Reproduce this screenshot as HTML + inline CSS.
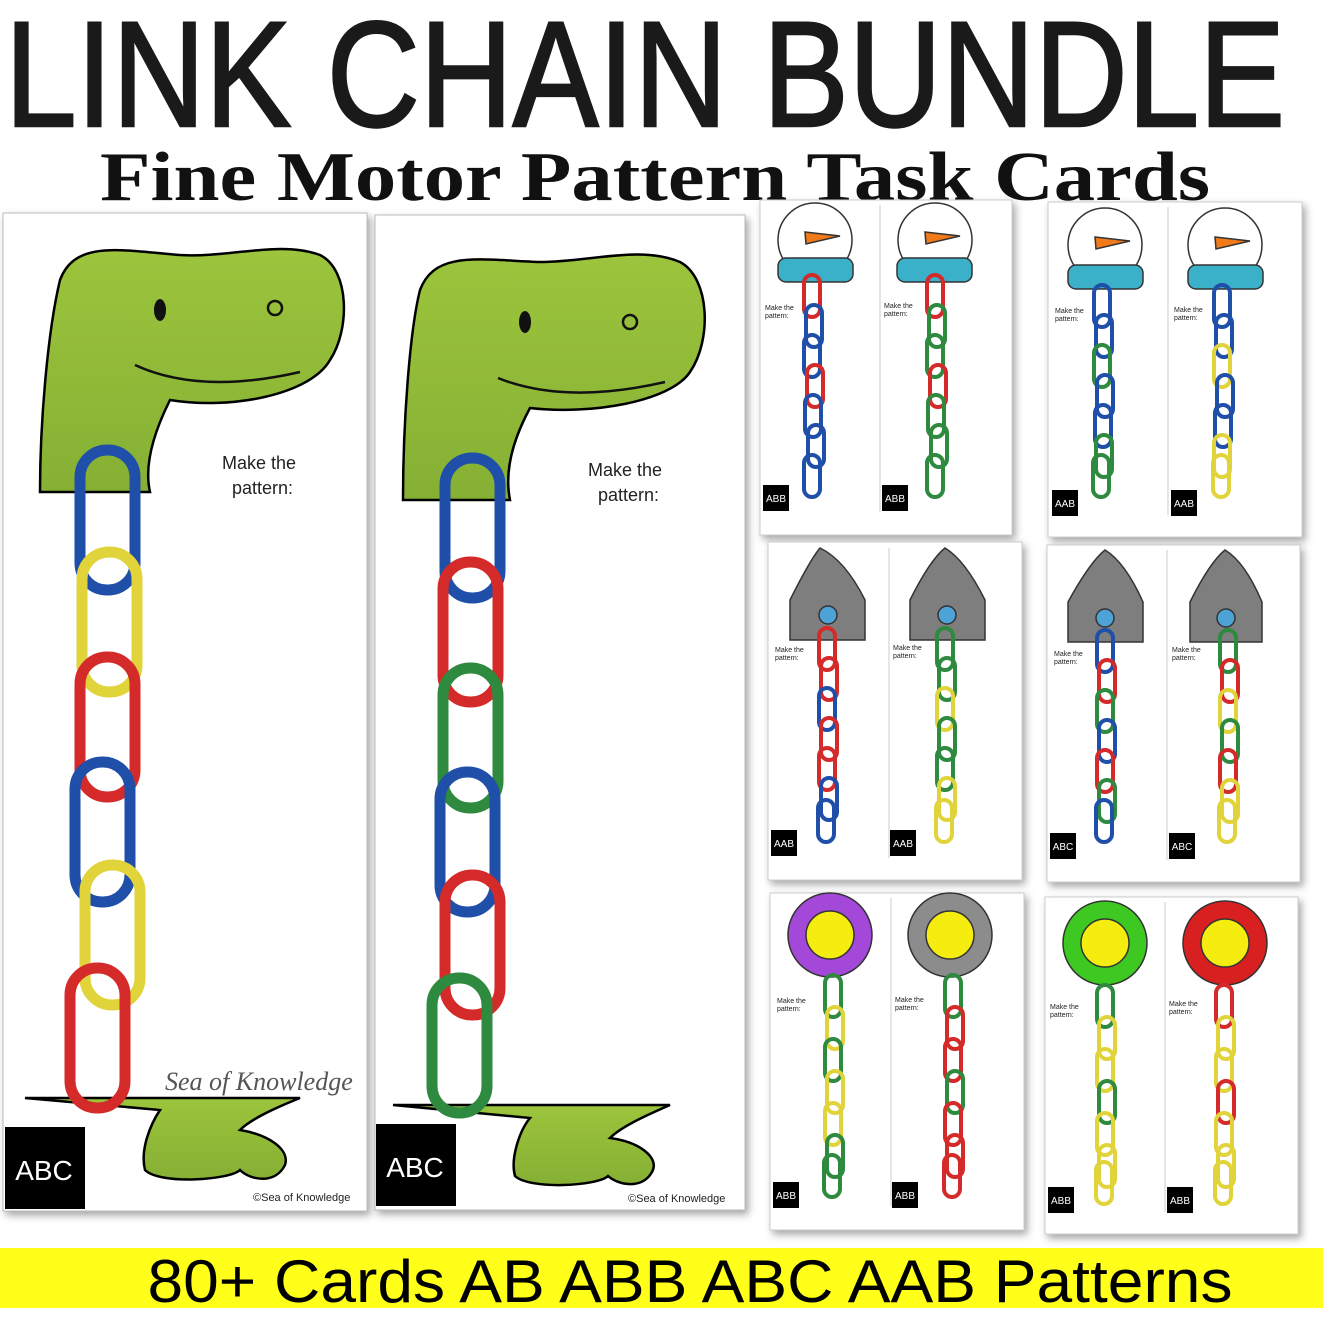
<!DOCTYPE html>
<html><head><style>body{margin:0;background:#fff}svg{display:block}</style></head><body>
<svg width="1323" height="1323" viewBox="0 0 1323 1323" xmlns="http://www.w3.org/2000/svg" xmlns:xlink="http://www.w3.org/1999/xlink">
<defs>
<filter id="sh" x="-5%" y="-5%" width="115%" height="115%"><feDropShadow dx="3" dy="4" stdDeviation="4" flood-color="#000" flood-opacity="0.35"/></filter>
<linearGradient id="gr" x1="0" y1="0" x2="0" y2="1"><stop offset="0" stop-color="#9cc43c"/><stop offset="1" stop-color="#86b034"/></linearGradient>
<rect id="L" width="16" height="42" rx="8" fill="none" stroke-width="4"/>
</defs>
<rect width="1323" height="1323" fill="#fff"/>
<text x="645" y="126" text-anchor="middle" font-family="Liberation Sans, sans-serif" font-size="150" fill="#1a1a1a" stroke="#1a1a1a" stroke-width="2.5" textLength="1280" lengthAdjust="spacingAndGlyphs">LINK CHAIN BUNDLE</text>
<text x="655" y="200" text-anchor="middle" font-family="Liberation Serif, serif" font-weight="bold" font-size="70" fill="#111" textLength="1110" lengthAdjust="spacingAndGlyphs">Fine Motor Pattern Task Cards</text>

<g filter="url(#sh)"><rect x="3" y="213" width="364" height="998" fill="#fff" stroke="#bbb"/><rect x="375" y="215" width="370" height="995" fill="#fff" stroke="#bbb"/></g>
<g stroke="#000" stroke-width="2.5" fill="url(#gr)">
<path d="M40 492 C40 420 48 330 60 280 C75 240 120 250 180 255 C230 258 280 240 320 255 C350 270 350 330 330 360 C310 395 230 410 170 400 C150 440 145 470 150 492 Z"/>
<path d="M403 500 C403 420 410 330 420 290 C435 250 480 260 540 262 C590 262 640 245 680 262 C710 278 712 340 690 372 C670 402 590 415 530 408 C510 445 505 475 510 500 Z"/>
<path d="M25 1098 L300 1098 C270 1110 250 1120 240 1130 C270 1135 290 1150 285 1165 C275 1185 250 1180 240 1170 C230 1180 160 1185 145 1170 C140 1150 150 1125 160 1110 Z"/>
<path d="M393 1105 L670 1105 C640 1118 620 1128 610 1138 C640 1142 660 1158 652 1172 C642 1190 618 1185 608 1176 C598 1186 530 1190 515 1176 C510 1158 520 1130 530 1118 Z"/>
</g>
<g fill="#111"><ellipse cx="160" cy="310" rx="6" ry="11"/><ellipse cx="525" cy="322" rx="6" ry="11"/></g>
<g fill="none" stroke="#111" stroke-width="2.5"><path d="M135 365 Q200 395 300 372"/><path d="M498 378 Q565 405 665 382"/><circle cx="275" cy="308" r="7"/><circle cx="630" cy="322" r="7"/></g>
<g font-family="Liberation Sans, sans-serif" font-size="18" fill="#222"><text x="222" y="469">Make the</text><text x="232" y="494">pattern:</text><text x="588" y="476">Make the</text><text x="598" y="501">pattern:</text></g>
<rect x="5" y="1127" width="80" height="82" fill="#000"/><text x="44" y="1180" text-anchor="middle" font-family="Liberation Sans, sans-serif" font-size="28" fill="#fff">ABC</text>
<rect x="376" y="1124" width="80" height="82" fill="#000"/><text x="415" y="1177" text-anchor="middle" font-family="Liberation Sans, sans-serif" font-size="28" fill="#fff">ABC</text>
<text x="253" y="1201" font-family="Liberation Sans, sans-serif" font-size="11" fill="#222">©Sea of Knowledge</text>
<text x="628" y="1202" font-family="Liberation Sans, sans-serif" font-size="11" fill="#222">©Sea of Knowledge</text>
<text x="165" y="1090" font-family="Liberation Serif, serif" font-style="italic" font-size="26" fill="#555">Sea of Knowledge</text>
<g fill="none" stroke-width="11">
<rect x="80" y="450" width="55" height="140" rx="27" stroke="#1f4fa8"/>
<rect x="82" y="552" width="55" height="140" rx="27" stroke="#e1d33a"/>
<rect x="80" y="657" width="55" height="140" rx="27" stroke="#d42a2a"/>
<rect x="75" y="762" width="55" height="140" rx="27" stroke="#1f4fa8"/>
<rect x="85" y="865" width="55" height="140" rx="27" stroke="#e1d33a"/>
<rect x="70" y="968" width="55" height="140" rx="27" stroke="#d42a2a"/>
<rect x="445" y="458" width="55" height="140" rx="27" stroke="#1f4fa8"/>
<rect x="443" y="562" width="55" height="140" rx="27" stroke="#d42a2a"/>
<rect x="443" y="668" width="55" height="140" rx="27" stroke="#2e8a3e"/>
<rect x="440" y="772" width="55" height="140" rx="27" stroke="#1f4fa8"/>
<rect x="445" y="875" width="55" height="140" rx="27" stroke="#d42a2a"/>
<rect x="432" y="978" width="55" height="135" rx="27" stroke="#2e8a3e"/>
</g>

<g filter="url(#sh)" fill="#fff" stroke="#ccc">
<rect x="760" y="200" width="252" height="335"/><rect x="1048" y="202" width="254" height="335"/>
<rect x="768" y="542" width="254" height="338"/><rect x="1047" y="545" width="253" height="337"/>
<rect x="770" y="893" width="254" height="337"/><rect x="1045" y="897" width="253" height="337"/>
</g>
<g fill="none" stroke="#ccc"><line x1="880" y1="205" x2="880" y2="512"/><line x1="1168" y1="207" x2="1168" y2="515"/><line x1="889" y1="548" x2="889" y2="858"/><line x1="1167" y1="550" x2="1167" y2="860"/><line x1="891" y1="898" x2="891" y2="1206"/><line x1="1165" y1="902" x2="1165" y2="1212"/></g>
<g stroke="#333" stroke-width="1.5">
<g fill="#fff"><circle cx="815" cy="240" r="37"/><circle cx="935" cy="240" r="37"/><circle cx="1105" cy="245" r="37"/><circle cx="1225" cy="245" r="37"/></g>
<g fill="#3bb0c9"><rect x="778" y="258" width="75" height="24" rx="8"/><rect x="897" y="258" width="75" height="24" rx="8"/><rect x="1068" y="265" width="75" height="24" rx="8"/><rect x="1188" y="265" width="75" height="24" rx="8"/></g>
<g fill="#f07a1a"><path d="M805 232 L840 236 L806 244Z"/><path d="M925 232 L960 236 L926 244Z"/><path d="M1095 237 L1130 241 L1096 249Z"/><path d="M1215 237 L1250 241 L1216 249Z"/></g>
<g fill="#7e7e7e"><path d="M790 600 Q810 560 820 548 Q845 560 865 600 L865 640 L790 640Z"/><path d="M910 600 Q930 560 945 548 Q965 560 985 600 L985 640 L910 640Z"/><path d="M1068 602 Q1090 562 1105 550 Q1125 562 1143 602 L1143 642 L1068 642Z"/><path d="M1190 602 Q1210 562 1225 550 Q1245 562 1262 602 L1262 642 L1190 642Z"/></g>
<g fill="#4da3d6"><circle cx="828" cy="615" r="9"/><circle cx="947" cy="615" r="9"/><circle cx="1105" cy="618" r="9"/><circle cx="1226" cy="618" r="9"/></g>
<g fill="#a348d8"><circle cx="830" cy="935" r="42"/></g><g fill="#8c8c8c"><circle cx="950" cy="935" r="42"/></g>
<g fill="#3ec922"><circle cx="1105" cy="943" r="42"/></g><g fill="#d82020"><circle cx="1225" cy="943" r="42"/></g>
<g fill="#f5ec10"><circle cx="830" cy="935" r="24"/><circle cx="950" cy="935" r="24"/><circle cx="1105" cy="943" r="24"/><circle cx="1225" cy="943" r="24"/></g>
</g>
<g>
<use xlink:href="#L" x="804" y="275" stroke="#d42a2a"/><use xlink:href="#L" x="806" y="305" stroke="#1f4fa8"/><use xlink:href="#L" x="804" y="335" stroke="#1f4fa8"/><use xlink:href="#L" x="807" y="365" stroke="#d42a2a"/><use xlink:href="#L" x="805" y="395" stroke="#1f4fa8"/><use xlink:href="#L" x="808" y="425" stroke="#1f4fa8"/><use xlink:href="#L" x="804" y="455" stroke="#1f4fa8"/>
<use xlink:href="#L" x="927" y="275" stroke="#d42a2a"/><use xlink:href="#L" x="929" y="305" stroke="#2e8a3e"/><use xlink:href="#L" x="927" y="335" stroke="#2e8a3e"/><use xlink:href="#L" x="930" y="365" stroke="#d42a2a"/><use xlink:href="#L" x="928" y="395" stroke="#2e8a3e"/><use xlink:href="#L" x="931" y="425" stroke="#2e8a3e"/><use xlink:href="#L" x="927" y="455" stroke="#2e8a3e"/>
<use xlink:href="#L" x="1094" y="285" stroke="#1f4fa8"/><use xlink:href="#L" x="1096" y="315" stroke="#1f4fa8"/><use xlink:href="#L" x="1094" y="345" stroke="#2e8a3e"/><use xlink:href="#L" x="1097" y="375" stroke="#1f4fa8"/><use xlink:href="#L" x="1095" y="405" stroke="#1f4fa8"/><use xlink:href="#L" x="1096" y="435" stroke="#2e8a3e"/><use xlink:href="#L" x="1093" y="455" stroke="#2e8a3e"/>
<use xlink:href="#L" x="1214" y="285" stroke="#1f4fa8"/><use xlink:href="#L" x="1216" y="315" stroke="#1f4fa8"/><use xlink:href="#L" x="1214" y="345" stroke="#e1d33a"/><use xlink:href="#L" x="1217" y="375" stroke="#1f4fa8"/><use xlink:href="#L" x="1215" y="405" stroke="#1f4fa8"/><use xlink:href="#L" x="1214" y="435" stroke="#e1d33a"/><use xlink:href="#L" x="1213" y="455" stroke="#e1d33a"/>
<use xlink:href="#L" x="819" y="628" stroke="#d42a2a"/><use xlink:href="#L" x="821" y="658" stroke="#d42a2a"/><use xlink:href="#L" x="819" y="688" stroke="#1f4fa8"/><use xlink:href="#L" x="821" y="718" stroke="#d42a2a"/><use xlink:href="#L" x="819" y="748" stroke="#d42a2a"/><use xlink:href="#L" x="821" y="778" stroke="#1f4fa8"/><use xlink:href="#L" x="818" y="800" stroke="#1f4fa8"/>
<use xlink:href="#L" x="937" y="628" stroke="#2e8a3e"/><use xlink:href="#L" x="939" y="658" stroke="#2e8a3e"/><use xlink:href="#L" x="937" y="688" stroke="#e1d33a"/><use xlink:href="#L" x="939" y="718" stroke="#2e8a3e"/><use xlink:href="#L" x="937" y="748" stroke="#2e8a3e"/><use xlink:href="#L" x="939" y="778" stroke="#e1d33a"/><use xlink:href="#L" x="936" y="800" stroke="#e1d33a"/>
<use xlink:href="#L" x="1097" y="630" stroke="#1f4fa8"/><use xlink:href="#L" x="1099" y="660" stroke="#d42a2a"/><use xlink:href="#L" x="1097" y="690" stroke="#2e8a3e"/><use xlink:href="#L" x="1099" y="720" stroke="#1f4fa8"/><use xlink:href="#L" x="1097" y="750" stroke="#d42a2a"/><use xlink:href="#L" x="1099" y="780" stroke="#2e8a3e"/><use xlink:href="#L" x="1096" y="800" stroke="#1f4fa8"/>
<use xlink:href="#L" x="1220" y="630" stroke="#2e8a3e"/><use xlink:href="#L" x="1222" y="660" stroke="#d42a2a"/><use xlink:href="#L" x="1220" y="690" stroke="#e1d33a"/><use xlink:href="#L" x="1222" y="720" stroke="#2e8a3e"/><use xlink:href="#L" x="1220" y="750" stroke="#d42a2a"/><use xlink:href="#L" x="1222" y="780" stroke="#e1d33a"/><use xlink:href="#L" x="1219" y="800" stroke="#e1d33a"/>
<use xlink:href="#L" x="825" y="975" stroke="#2e8a3e"/><use xlink:href="#L" x="827" y="1007" stroke="#e1d33a"/><use xlink:href="#L" x="825" y="1039" stroke="#2e8a3e"/><use xlink:href="#L" x="827" y="1071" stroke="#e1d33a"/><use xlink:href="#L" x="825" y="1103" stroke="#e1d33a"/><use xlink:href="#L" x="827" y="1135" stroke="#2e8a3e"/><use xlink:href="#L" x="824" y="1155" stroke="#2e8a3e"/>
<use xlink:href="#L" x="945" y="975" stroke="#2e8a3e"/><use xlink:href="#L" x="947" y="1007" stroke="#d42a2a"/><use xlink:href="#L" x="945" y="1039" stroke="#d42a2a"/><use xlink:href="#L" x="947" y="1071" stroke="#2e8a3e"/><use xlink:href="#L" x="945" y="1103" stroke="#d42a2a"/><use xlink:href="#L" x="947" y="1135" stroke="#d42a2a"/><use xlink:href="#L" x="944" y="1155" stroke="#d42a2a"/>
<use xlink:href="#L" x="1097" y="985" stroke="#2e8a3e"/><use xlink:href="#L" x="1099" y="1017" stroke="#e1d33a"/><use xlink:href="#L" x="1097" y="1049" stroke="#e1d33a"/><use xlink:href="#L" x="1099" y="1081" stroke="#2e8a3e"/><use xlink:href="#L" x="1097" y="1113" stroke="#e1d33a"/><use xlink:href="#L" x="1099" y="1145" stroke="#e1d33a"/><use xlink:href="#L" x="1096" y="1162" stroke="#e1d33a"/>
<use xlink:href="#L" x="1216" y="985" stroke="#d42a2a"/><use xlink:href="#L" x="1218" y="1017" stroke="#e1d33a"/><use xlink:href="#L" x="1216" y="1049" stroke="#e1d33a"/><use xlink:href="#L" x="1218" y="1081" stroke="#d42a2a"/><use xlink:href="#L" x="1216" y="1113" stroke="#e1d33a"/><use xlink:href="#L" x="1218" y="1145" stroke="#e1d33a"/><use xlink:href="#L" x="1215" y="1162" stroke="#e1d33a"/>
</g>
<g font-family="Liberation Sans, sans-serif" font-size="7" fill="#222">
<text x="765" y="310">Make the</text><text x="765" y="318">pattern:</text><text x="884" y="308">Make the</text><text x="884" y="316">pattern:</text>
<text x="1055" y="313">Make the</text><text x="1055" y="321">pattern:</text><text x="1174" y="312">Make the</text><text x="1174" y="320">pattern:</text>
<text x="775" y="652">Make the</text><text x="775" y="660">pattern:</text><text x="893" y="650">Make the</text><text x="893" y="658">pattern:</text>
<text x="1054" y="656">Make the</text><text x="1054" y="664">pattern:</text><text x="1172" y="652">Make the</text><text x="1172" y="660">pattern:</text>
<text x="777" y="1003">Make the</text><text x="777" y="1011">pattern:</text><text x="895" y="1002">Make the</text><text x="895" y="1010">pattern:</text>
<text x="1050" y="1009">Make the</text><text x="1050" y="1017">pattern:</text><text x="1169" y="1006">Make the</text><text x="1169" y="1014">pattern:</text>
</g>
<g fill="#000"><rect x="763" y="485" width="26" height="26"/><rect x="882" y="485" width="26" height="26"/><rect x="1052" y="490" width="26" height="26"/><rect x="1171" y="490" width="26" height="26"/><rect x="771" y="830" width="26" height="26"/><rect x="890" y="830" width="26" height="26"/><rect x="1050" y="833" width="26" height="26"/><rect x="1169" y="833" width="26" height="26"/><rect x="773" y="1182" width="26" height="26"/><rect x="892" y="1182" width="26" height="26"/><rect x="1048" y="1187" width="26" height="26"/><rect x="1167" y="1187" width="26" height="26"/></g>
<g font-family="Liberation Sans, sans-serif" font-size="10" fill="#fff" text-anchor="middle">
<text x="776" y="502">ABB</text><text x="895" y="502">ABB</text><text x="1065" y="507">AAB</text><text x="1184" y="507">AAB</text><text x="784" y="847">AAB</text><text x="903" y="847">AAB</text><text x="1063" y="850">ABC</text><text x="1182" y="850">ABC</text><text x="786" y="1199">ABB</text><text x="905" y="1199">ABB</text><text x="1061" y="1204">ABB</text><text x="1180" y="1204">ABB</text>
</g>

<rect x="0" y="1248" width="1323" height="60" fill="#ffff1a"/>
<text x="690" y="1302" text-anchor="middle" font-family="Liberation Sans, sans-serif" font-size="60" fill="#000" textLength="1085" lengthAdjust="spacingAndGlyphs">80+ Cards AB ABB ABC AAB Patterns</text>
</svg>
</body></html>
